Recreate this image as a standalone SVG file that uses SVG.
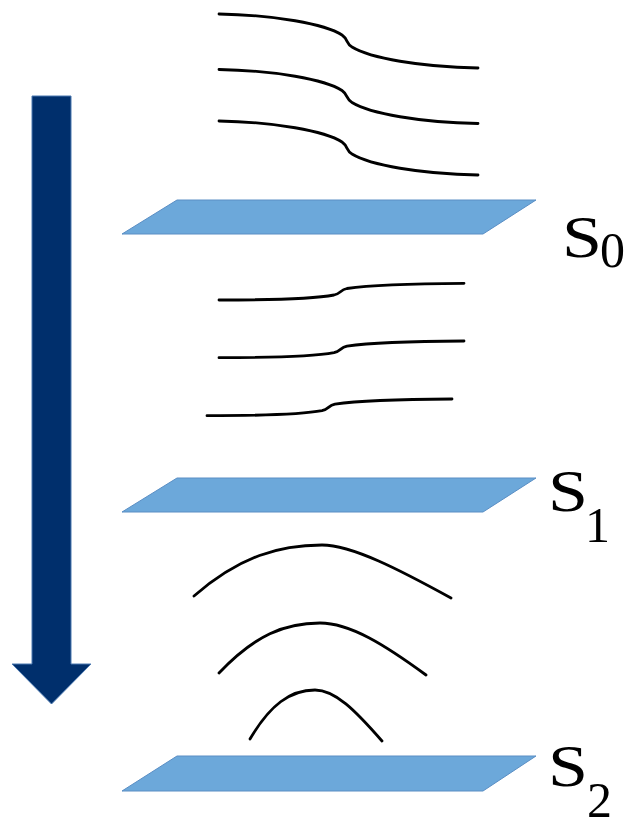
<svg xmlns="http://www.w3.org/2000/svg" width="628" height="823" viewBox="0 0 628 823">
<style>
.plane{fill:#6CA8DA;stroke:#5A8EC4;stroke-width:1}
.line{fill:none;stroke:#000;stroke-width:2.8;stroke-linecap:round}
.lbl{font-family:"Liberation Serif","Times New Roman",serif;fill:#000}
.big{font-size:59px}
.sub{font-size:50px}
</style>
<defs>
<path id="topcurve" d="M219,14 C275,15 325,24 342,35 C348,39 346,44 352,47 C370,58 420,67 478,68"/>
<path id="midcurve" d="M219,300 C270,300 318,298 334,295 C341,293.5 340,290 347,288.5 C370,285 420,283.5 464,283.3"/>
</defs>
<g id="arrow">
<polygon points="32,96 71,96 71,664 91,664 51.5,704 12,664 32,664" fill="#002F6C" stroke="#4A78B0" stroke-width="1"/>
</g>
<g id="lines-top">
<use href="#topcurve" class="line"/>
<use href="#topcurve" class="line" transform="translate(0,55.5)"/>
<use href="#topcurve" class="line" transform="translate(0,107)"/>
</g>
<g id="plane-s0">
<polygon class="plane" points="177,200 536,200 483,234 122,234"/>
<text class="lbl big" transform="translate(562,257) scale(1.22,1)">S</text>
<text class="lbl sub" x="600" y="267">0</text>
</g>
<g id="lines-mid">
<use href="#midcurve" class="line"/>
<use href="#midcurve" class="line" transform="translate(0,57.7)"/>
<use href="#midcurve" class="line" transform="translate(-12,115.7)"/>
</g>
<g id="plane-s1">
<polygon class="plane" points="177,478 536,478 483,512 122,512"/>
<text class="lbl big" transform="translate(548,511) scale(1.22,1)">S</text>
<text class="lbl sub" x="585" y="542">1</text>
</g>
<g id="lines-bottom">
<path class="line" d="M194,596 C240,556 280,545 322,545 C352,545 400,570 451,598"/>
<path class="line" d="M219,673 C255,635 285,623 320,623 C350,623 385,645 426,675"/>
<path class="line" d="M250,739 C270,705 290,690 315,690 C335,690 355,710 382,741"/>
</g>
<g id="plane-s2">
<polygon class="plane" points="177,756 536,756 483,791 122,791"/>
<text class="lbl big" transform="translate(548,786) scale(1.22,1)">S</text>
<text class="lbl sub" x="587" y="817">2</text>
</g>
</svg>
